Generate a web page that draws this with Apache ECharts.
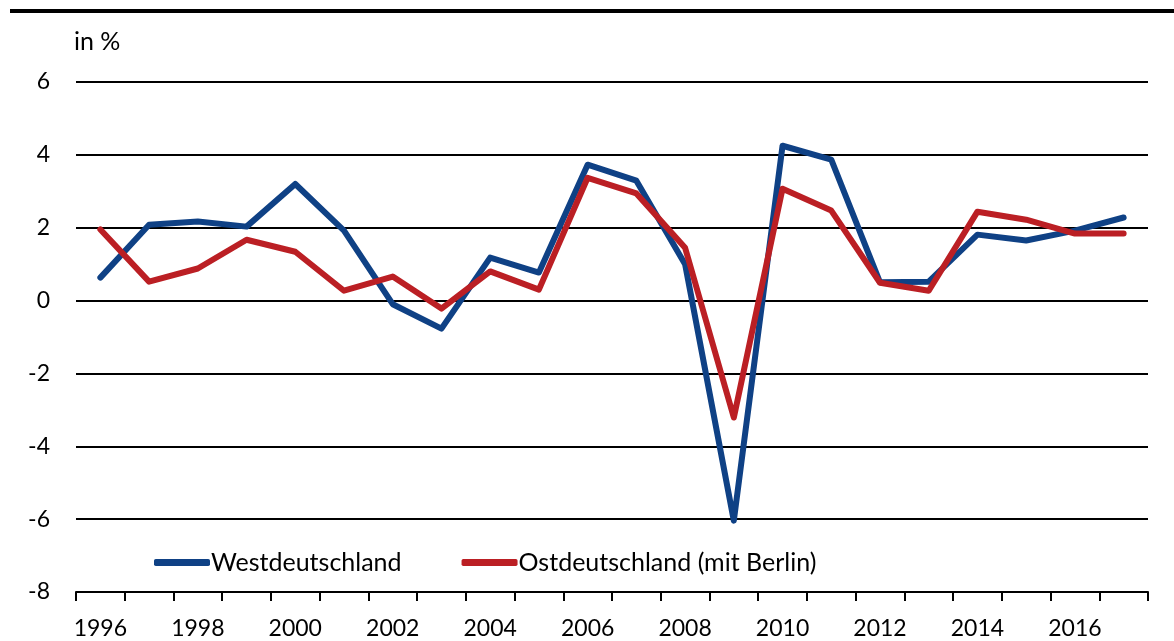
<!DOCTYPE html>
<html>
<head>
<meta charset="utf-8">
<script src="https://cdn.jsdelivr.net/npm/echarts@6/dist/echarts.min.js"></script>
<style>
    html, body { margin: 0; padding: 0; background: #ffffff; }
    #chart { width: 1174px; height: 641px; }
</style>
</head>
<body>
<div id="chart"></div>
<script>
// Jahre und Werte (in %)
var years = ['1996', '1997', '1998', '1999', '2000', '2001', '2002', '2003', '2004', '2005', '2006',
    '2007', '2008', '2009', '2010', '2011', '2012', '2013', '2014', '2015', '2016', '2017'];
var west = [0.63, 2.08, 2.17, 2.03, 3.2, 1.92, -0.1, -0.77, 1.18, 0.77, 3.73,
    3.29, 1.0, -6.04, 4.25, 3.87, 0.5, 0.52, 1.81, 1.65, 1.92, 2.28];
var ost = [1.95, 0.52, 0.88, 1.67, 1.34, 0.27, 0.66, -0.22, 0.8, 0.3, 3.37,
    2.94, 1.45, -3.21, 3.07, 2.47, 0.49, 0.27, 2.44, 2.22, 1.84, 1.84];
var seriesNames = ['Westdeutschland', 'Ostdeutschland (mit Berlin)'];

var chart = echarts.init(document.getElementById('chart'));
var font = 'Lato';

chart.setOption({
    animation: false,
    textStyle: { fontFamily: font },
    graphic: [
        // dicke Linie oben
        { type: 'rect', shape: { x: 10, y: 9, width: 1164, height: 4 }, style: { fill: '#000' } },
        { type: 'text', left: 74, top: 29, style: { text: 'in %', fontSize: 25, fontFamily: font, fill: '#000' } }
    ],
    grid: { left: 76, right: 26, top: 82, bottom: 49 },
    legend: {
        data: seriesNames,
        left: 149,
        top: 545,
        icon: 'roundRect',
        itemWidth: 56,
        itemHeight: 7,
        itemGap: 60,
        textStyle: { fontSize: 25, color: '#000', fontFamily: font, padding: [0, 0, 0, -4] }
    },
    xAxis: {
        type: 'category',
        data: years,
        boundaryGap: true,
        axisLine: { show: true, onZero: false, lineStyle: { color: '#000', width: 2 } },
        axisTick: { show: true, interval: 0, length: 9, lineStyle: { color: '#000', width: 2 } },
        axisLabel: { interval: 1, color: '#000', fontSize: 23, margin: 25 }
    },
    yAxis: {
        type: 'value',
        min: -8,
        max: 6,
        interval: 2,
        axisLine: { show: false },
        axisTick: { show: false },
        axisLabel: { color: '#000', fontSize: 23, margin: 26 },
        splitLine: { lineStyle: { color: '#000', width: 2 } }
    },
    series: [
        {
            name: seriesNames[0],
            type: 'line',
            data: west,
            symbol: 'none',
            color: '#0f4185',
            lineStyle: { width: 6, cap: 'round', join: 'round' },
            z: 3
        },
        {
            name: seriesNames[1],
            type: 'line',
            data: ost,
            symbol: 'none',
            color: '#bb1f24',
            lineStyle: { width: 6, cap: 'round', join: 'round' },
            z: 4
        }
    ]
});
</script>
</body>
</html>
